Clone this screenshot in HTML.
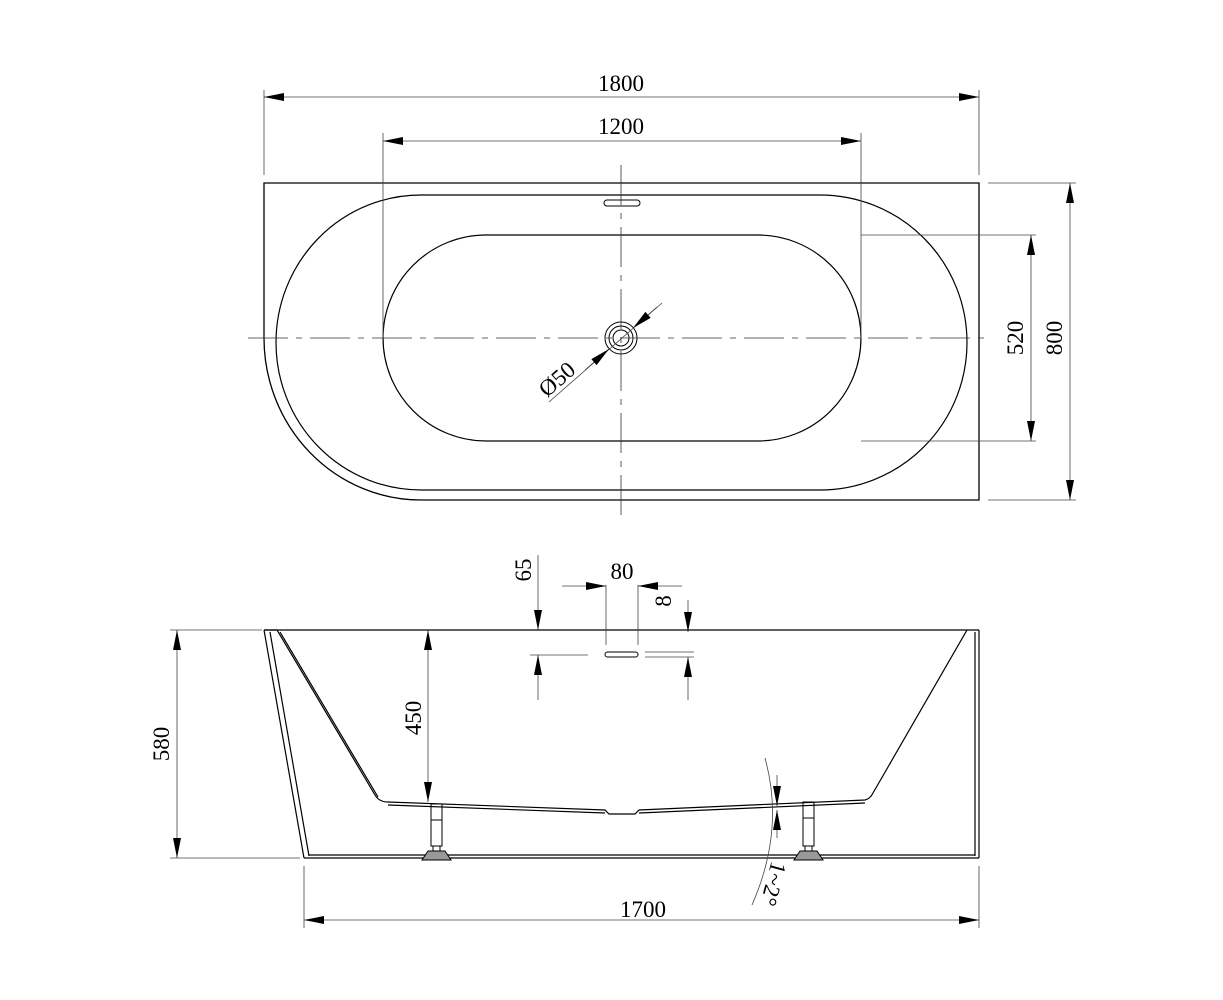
<!DOCTYPE html>
<html><head><style>html,body{margin:0;background:#fff}svg{display:block}</style></head><body>
<svg width="1223" height="1000" viewBox="0 0 1223 1000" xmlns="http://www.w3.org/2000/svg" font-family="Liberation Serif, serif" font-size="23">
<defs>
<marker id="a" viewBox="0 0 10 4" refX="10" refY="2" markerWidth="22" markerHeight="8" markerUnits="userSpaceOnUse" orient="auto-start-reverse"><path d="M0,0L10,2L0,4z" fill="#000"/></marker>
</defs>
<g stroke="#000" fill="none">
<!-- top view -->
<path d="M264,338 L264,183 L979,183 L979,500 L421,500 A157,162 0 0 1 264,338" stroke-width="1.3"/>
<path d="M421,195 L820,195 A147,147.5 0 0 1 820,490 L421,490 A145,147.5 0 0 1 421,195Z" stroke-width="1.2"/>
<path d="M486,235 L758,235 A103,103 0 0 1 758,441 L486,441 A103,103 0 0 1 486,235Z" stroke-width="1.2"/>
<rect x="604" y="200" width="36" height="6" rx="3" stroke-width="1"/>
<circle cx="621" cy="338" r="16" stroke-width="1"/><circle cx="621" cy="338" r="12" stroke-width="1"/><circle cx="621" cy="338" r="8" stroke-width="1"/>
<g stroke-width="0.8" stroke="#333" stroke-dasharray="40,8,6,8">
<line x1="248" y1="338" x2="992" y2="338"/><line x1="621" y1="165" x2="621" y2="515"/></g>
<g stroke-width="0.8" stroke="#444">
<line x1="264" y1="90" x2="264" y2="175"/><line x1="979" y1="90" x2="979" y2="175"/>
<line x1="383" y1="133" x2="383" y2="338"/><line x1="861" y1="133" x2="861" y2="338"/>
<line x1="861" y1="235" x2="1036" y2="235"/><line x1="861" y1="441" x2="1036" y2="441"/>
<line x1="988" y1="183" x2="1076" y2="183"/><line x1="988" y1="500" x2="1076" y2="500"/>
<line x1="264" y1="97" x2="979" y2="97" marker-start="url(#a)" marker-end="url(#a)"/>
<line x1="383" y1="141" x2="861" y2="141" marker-start="url(#a)" marker-end="url(#a)"/>
<line x1="1031" y1="235" x2="1031" y2="441" marker-start="url(#a)" marker-end="url(#a)"/>
<line x1="1070" y1="183" x2="1070" y2="500" marker-start="url(#a)" marker-end="url(#a)"/>
<line x1="549" y1="402" x2="662" y2="303"/>
<line x1="585" y1="370" x2="609" y2="349" marker-end="url(#a)"/>
<line x1="657" y1="307" x2="633" y2="328" marker-end="url(#a)"/>
</g>
<!-- side view -->
<g stroke-width="1.2">
<line x1="264" y1="630" x2="979" y2="630"/>
<path d="M264,630 L304,858 M270,632 L309,856"/>
<path d="M264,630 L277,630 L375,795 Q379,802 388,802 L605,810 L609,814 L635,814 L639,810 L865,800 Q870,799 873,793 L967,630"/>
<path d="M280,632 L378,797 M388,805 L605,813 M639,813 L865,803"/>
<path d="M979,630 L979,858 M975,632 L975,856"/>
<path d="M304,858 L979,858 M309,855 L975,855"/>
</g>
<g stroke-width="1">
<rect x="431" y="804" width="11" height="42"/><line x1="431" y1="820" x2="442" y2="820"/><rect x="433" y="846" width="7" height="5"/><path d="M422,860 L428,851 L445,851 L451,860Z" fill="#999"/>
<rect x="803" y="802" width="11" height="44"/><line x1="803" y1="818" x2="814" y2="818"/><rect x="805" y="846" width="7" height="5"/><path d="M794,860 L800,851 L817,851 L823,860Z" fill="#999"/>
<rect x="605" y="652" width="33" height="5" rx="2.5"/>
</g>
<g stroke-width="0.8" stroke="#444">
<line x1="170" y1="630" x2="262" y2="630"/><line x1="170" y1="858" x2="300" y2="858"/>
<line x1="177" y1="630" x2="177" y2="858" marker-start="url(#a)" marker-end="url(#a)"/>
<line x1="428" y1="630" x2="428" y2="802" marker-start="url(#a)" marker-end="url(#a)"/>
<line x1="304" y1="866" x2="304" y2="928"/><line x1="979" y1="866" x2="979" y2="928"/>
<line x1="304" y1="920" x2="979" y2="920" marker-start="url(#a)" marker-end="url(#a)"/>
<line x1="538" y1="555" x2="538" y2="630" marker-end="url(#a)"/>
<line x1="538" y1="700" x2="538" y2="655" marker-end="url(#a)"/>
<line x1="530" y1="655" x2="588" y2="655"/>
<line x1="606" y1="585" x2="606" y2="645"/><line x1="638" y1="585" x2="638" y2="645"/>
<line x1="562" y1="586" x2="606" y2="586" marker-end="url(#a)"/>
<line x1="682" y1="586" x2="638" y2="586" marker-end="url(#a)"/>
<line x1="645" y1="652" x2="694" y2="652"/><line x1="645" y1="657" x2="694" y2="657"/>
<line x1="688" y1="600" x2="688" y2="632" marker-end="url(#a)"/>
<line x1="688" y1="700" x2="688" y2="657" marker-end="url(#a)"/>
<path d="M765,758 Q785,830 752,905"/>
<line x1="777" y1="775" x2="777" y2="806" marker-end="url(#a)"/>
<line x1="777" y1="838" x2="777" y2="810" marker-end="url(#a)"/>
</g>
</g>
<g fill="#000" text-anchor="middle">
<text x="621" y="91">1800</text>
<text x="621" y="134">1200</text>
<text transform="translate(1023,338) rotate(-90)">520</text>
<text transform="translate(1062,338) rotate(-90)">800</text>
<text transform="translate(562,385) rotate(-41)">Ø50</text>
<text transform="translate(169,744) rotate(-90)">580</text>
<text transform="translate(421,718) rotate(-90)">450</text>
<text transform="translate(531,570) rotate(-90)">65</text>
<text x="622" y="579">80</text>
<text transform="translate(671,601) rotate(-90)">8</text>
<text x="643" y="917">1700</text>
<text transform="translate(766,882) rotate(105)">1~2°</text>
</g>
</svg>
</body></html>
